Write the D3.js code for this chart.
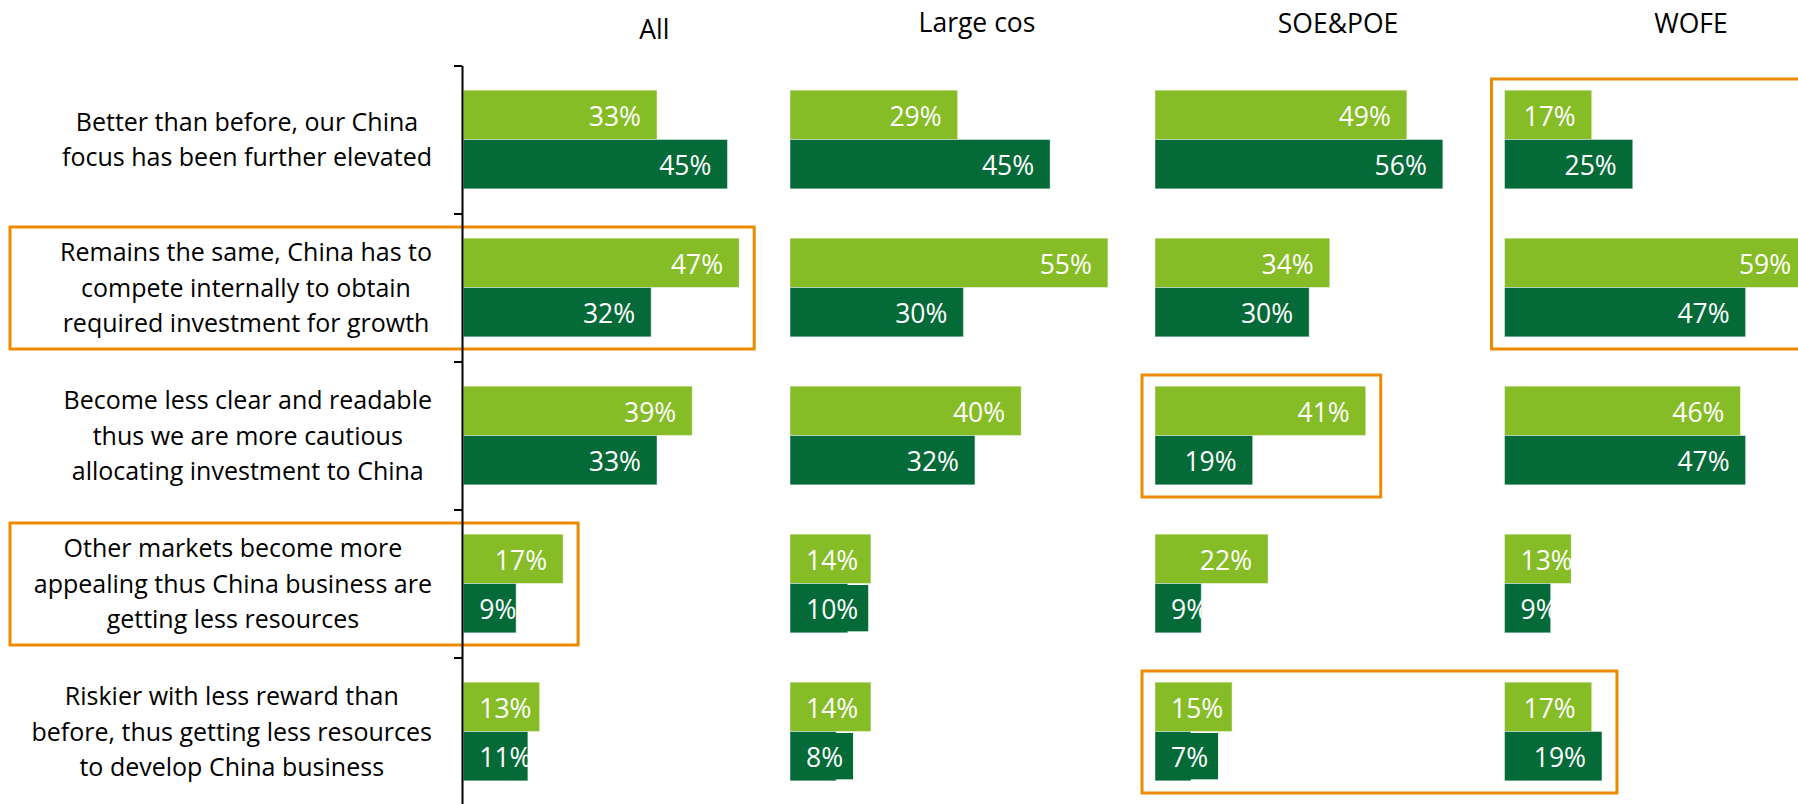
<!DOCTYPE html>
<html>
<head>
<meta charset="utf-8">
<script src="https://cdn.jsdelivr.net/npm/d3@7"></script>
<style>
  html, body { margin: 0; padding: 0; background: #ffffff; }
  svg { display: block; }
  text { font-family: "Open Sans", "Noto Sans", sans-serif; }
</style>
</head>
<body>
<svg id="chart" width="1798" height="804"></svg>
<script>
// ---- data ----------------------------------------------------------------
// Answer categories (axis labels, one entry per printed line)
const categories = [
  ["Better than before, our China", "focus has been further elevated"],
  ["Remains the same, China has to", "compete internally to obtain", "required investment for growth"],
  ["Become less clear and readable", "thus we are more cautious", "allocating investment to China"],
  ["Other markets become more", "appealing thus China business are", "getting less resources"],
  ["Riskier with less reward than", "before, thus getting less resources", "to develop China business"]
];

// Respondent groups (one panel each)
const groups = ["All", "Large cos", "SOE&POE", "WOFE"];

// Share of respondents, in %, per group (rows) and category (columns)
const seriesA = [            // light green bars
  [33, 47, 39, 17, 13],
  [29, 55, 40, 14, 14],
  [49, 34, 41, 22, 15],
  [17, 59, 46, 13, 17]
];
const seriesB = [            // dark green bars
  [45, 32, 33, 9, 11],
  [45, 30, 32, 10, 8],
  [56, 30, 19, 9, 7],
  [25, 47, 47, 9, 19]
];

// Highlighted answer blocks: group range and category range
const highlights = [
  { groups: [0, 0], cats: [1, 1], withLabels: true },
  { groups: [0, 0], cats: [3, 3], withLabels: true },
  { groups: [3, 3], cats: [0, 1], withLabels: false },
  { groups: [2, 2], cats: [2, 2], withLabels: false },
  { groups: [2, 3], cats: [4, 4], withLabels: false }
];

// ---- layout & style -------------------------------------------------------
const W = 1798, H = 804;
const colors = ["#86BC25", "#046A38"];
const highlightColor = "#ED8B00";
const panels = [
  { x0: 463.3, width: 352.2, titleDx: 191, titleY: 39 },
  { x0: 790.0, width: 346.8, titleDx: 187, titleY: 32 },
  { x0: 1155.0, width: 308.4, titleDx: 183, titleY: 33 },
  { x0: 1504.5, width: 307.8, titleDx: 186.5, titleY: 33 }
];
const xMax = 60;
// value labels drawn on a filled box of the bar colour: [group, category, series]
const filledLabels = [[1, 3, 1], [1, 4, 1], [2, 4, 1]];

const labelFont = 26.5, catFont = 25, titleFont = 26.5, lineH = 35.5;
const axisX = 462, catRight = 432, labelPad = 16;

const svg = d3.select("#chart");
svg.append("rect").attr("width", W).attr("height", H).attr("fill", "#fff");

const y = d3.scaleBand()
  .domain(d3.range(categories.length))
  .range([65.5, 805.5])
  .paddingInner(1 / 3)
  .paddingOuter(1 / 6);
const ySub = d3.scaleBand().domain([0, 1]).range([0, y.bandwidth()]);

const xScales = panels.map(p => d3.scaleLinear().domain([0, xMax]).range([p.x0, p.x0 + p.width]));

// ---- highlight boxes ------------------------------------------------------
const hlG = svg.append("g");
highlights.forEach(h => {
  const gIdx = d3.range(h.groups[0], h.groups[1] + 1);
  const cIdx = d3.range(h.cats[0], h.cats[1] + 1);
  let right = -Infinity;
  gIdx.forEach(g => cIdx.forEach(c => {
    right = Math.max(right, xScales[g](seriesA[g][c]), xScales[g](seriesB[g][c]));
  }));
  right += 15;
  const left = h.withLabels ? 10 : panels[h.groups[0]].x0 - 13;
  const top = y(h.cats[0]) - y.step() * (1 / 6) + 13.5;
  const bottom = y(h.cats[1]) + y.bandwidth() + y.step() * (1 / 6) - 12.5;
  hlG.append("rect")
    .attr("x", left).attr("y", top)
    .attr("width", right - left).attr("height", bottom - top)
    .attr("fill", "none")
    .attr("stroke", highlightColor)
    .attr("stroke-width", 3);
});

// ---- panels ---------------------------------------------------------------
groups.forEach((name, g) => {
  const x = xScales[g];
  const p = panels[g];
  const pg = svg.append("g").attr("class", "panel");

  pg.append("text")
    .attr("x", p.x0 + p.titleDx).attr("y", p.titleY)
    .attr("text-anchor", "middle")
    .attr("font-size", titleFont)
    .attr("fill", "#000")
    .text(name);

  const cells = [];
  categories.forEach((_, c) => {
    [seriesA, seriesB].forEach((s, k) => {
      cells.push({ c, k, v: s[g][c] });
    });
  });

  pg.selectAll("rect.bar")
    .data(cells)
    .join("rect")
    .attr("class", "bar")
    .attr("x", x(0))
    .attr("y", d => y(d.c) + ySub(d.k))
    .attr("width", d => x(d.v) - x(0))
    .attr("height", ySub.bandwidth())
    .attr("fill", d => colors[d.k])
    .attr("stroke", "rgba(255,255,255,0.45)")
    .attr("stroke-width", 1);

  const labels = pg.selectAll("text.val")
    .data(cells)
    .join("text")
    .attr("class", "val")
    .attr("font-size", labelFont)
    .attr("fill", "#fff")
    .attr("y", d => y(d.c) + ySub(d.k) + ySub.bandwidth() / 2 + labelFont * 0.42)
    .text(d => d.v + "%");

  labels.each(function (d) {
    const w = this.getComputedTextLength();
    const xl = Math.max(x(0) + labelPad, x(d.v) - labelPad - w);
    d3.select(this).attr("x", xl);
    if (filledLabels.some(f => f[0] === g && f[1] === d.c && f[2] === d.k)) {
      pg.insert("rect", "text.val")
        .attr("x", xl - 10).attr("width", w + 20)
        .attr("y", y(d.c) + ySub(d.k) + 1.5)
        .attr("height", ySub.bandwidth() - 3)
        .attr("fill", colors[d.k]);
    }
  });
});

// ---- category axis --------------------------------------------------------
const yEdges = d3.scaleLinear().domain([0, categories.length]).range([65.5, 805.5]);
const axisG = svg.append("g")
  .attr("transform", `translate(${axisX},0)`)
  .call(d3.axisLeft(yEdges)
    .tickValues(d3.range(categories.length + 1))
    .tickSize(8)
    .tickSizeOuter(0)
    .tickFormat(""));
axisG.selectAll("path, line").attr("stroke", "#000").attr("stroke-width", 2);

const catG = svg.append("g");
categories.forEach((lines, c) => {
  const cy = y(c) + y.bandwidth() / 2;
  const t = catG.append("text")
    .attr("font-size", catFont)
    .attr("fill", "#000")
    .attr("text-anchor", "middle");
  const spans = lines.map((line, j) => t.append("tspan")
    .attr("y", cy + (j - (lines.length - 1) / 2) * lineH + catFont * 0.36)
    .text(line));
  const maxW = d3.max(spans, s => s.node().getComputedTextLength());
  spans.forEach(s => s.attr("x", catRight - maxW / 2));
});
</script>
</body>
</html>
